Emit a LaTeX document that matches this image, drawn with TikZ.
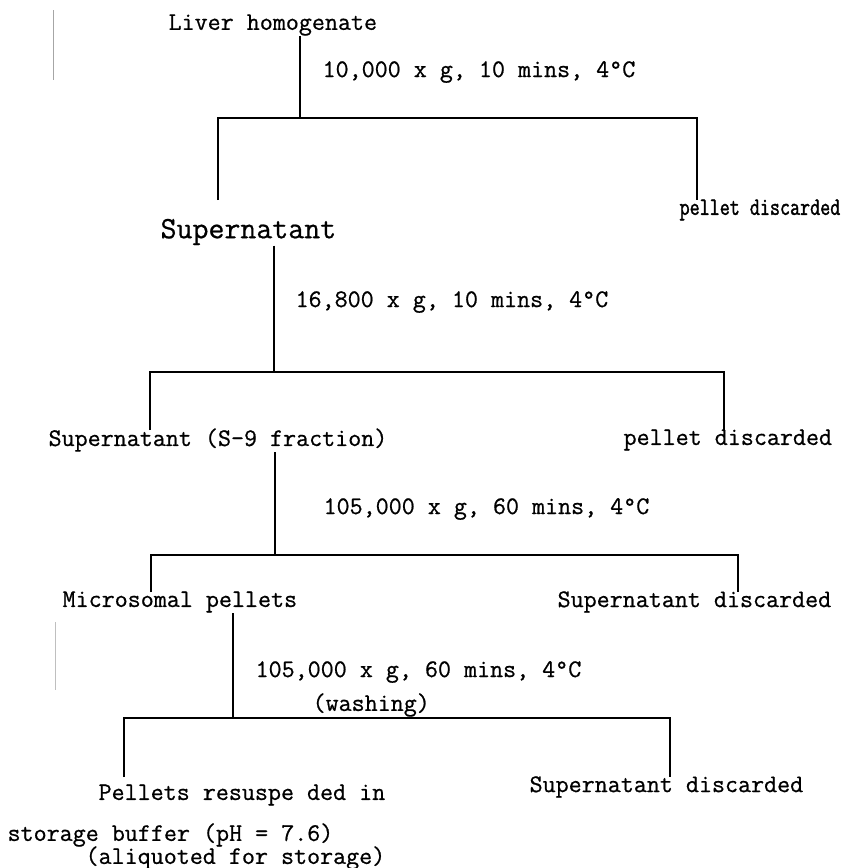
\documentclass[tikz,border=0pt]{standalone}
\usepackage{fontspec}
\setmonofont[FakeBold=0.7]{Latin Modern Mono}
\newfontfamily\narrowfont[FakeStretch=0.78,FakeBold=1.5]{Latin Modern Mono}
\usetikzlibrary{positioning}

\begin{document}
\begin{tikzpicture}[x=1pt, y=-1pt, line width=1.2pt,
  txt/.style={inner sep=0pt, anchor=west, font=\ttfamily\fontsize{25.3}{29}\selectfont},
  bigtxt/.style={inner sep=0pt, anchor=west, font=\ttfamily\fontsize{31}{35}\selectfont},
  smalltxt/.style={inner sep=0pt, anchor=west, font=\narrowfont\fontsize{25}{29}\selectfont}]
\useasboundingbox (0,0) rectangle (855,868);

\node[txt](liver) at (168,25) {Liver homogenate};
\node[txt](c1) at (322,72) {10,000 x g, 10 mins, 4°C};
\node[bigtxt](sup1) at (160,232) {Supernatant};
\node[smalltxt](pd1) at (679,210) {pellet discarded};
\node[txt](c2) at (295,302) {16,800 x g, 10 mins, 4°C};
\node[txt](s9) at (48,440) {Supernatant (S-9 fraction)};
\node[txt](pd2) at (623,440) {pellet discarded};
\node[txt](c3) at (323,509) {105,000 x g, 60 mins, 4°C};
\node[txt](micro) at (62,602) {Microsomal pellets};
\node[txt](sd1) at (557,602) {Supernatant discarded};
\node[txt](c4) at (255,672) {105,000 x g, 60 mins, 4°C};
\node[txt](wash) at (312,705) {(washing)};
\node[txt](resus) at (98,795) {Pellets resuspe ded in};
\node[txt](sd2) at (529,787) {Supernatant discarded};
\node[txt](buf) at (7,835) {storage buffer (pH = 7.6)};
\node[txt](aliq) at (85,858) {(aliquoted for storage)};

% split points and bracket feet
\coordinate (j1) at (300,118);
\coordinate (f1a) at (218,200);
\coordinate (f1b) at (697,200);
\coordinate (j2) at (274,372);
\coordinate (f2a) at (150,430);
\coordinate (f2b) at (724,430);
\coordinate (j3) at (275,555);
\coordinate (f3a) at (151,592);
\coordinate (f3b) at (738,592);
\coordinate (j4) at (233,718);
\coordinate (f4a) at (124,777);
\coordinate (f4b) at (670,777);

\draw (liver.south -| j1) -- (j1);
\draw (f1a) |- (j1) -| (f1b);
\draw (sup1.south -| j2) -- (j2);
\draw (f2a) |- (j2) -| (f2b);
\draw (s9.south -| j3) -- (j3);
\draw (f3a) |- (j3) -| (f3b);
\draw (micro.south -| j4) -- (j4);
\draw (f4a) |- (j4) -| (f4b);

% faint marks
\coordinate (m1) at (53,10);
\coordinate (m2) at (53,80);
\coordinate (m3) at (55,622);
\coordinate (m4) at (55,690);
\draw[gray!70, line width=0.8pt] (m1) -- (m2);
\draw[gray!50, line width=0.8pt] (m3) -- (m4);
\end{tikzpicture}
\end{document}
